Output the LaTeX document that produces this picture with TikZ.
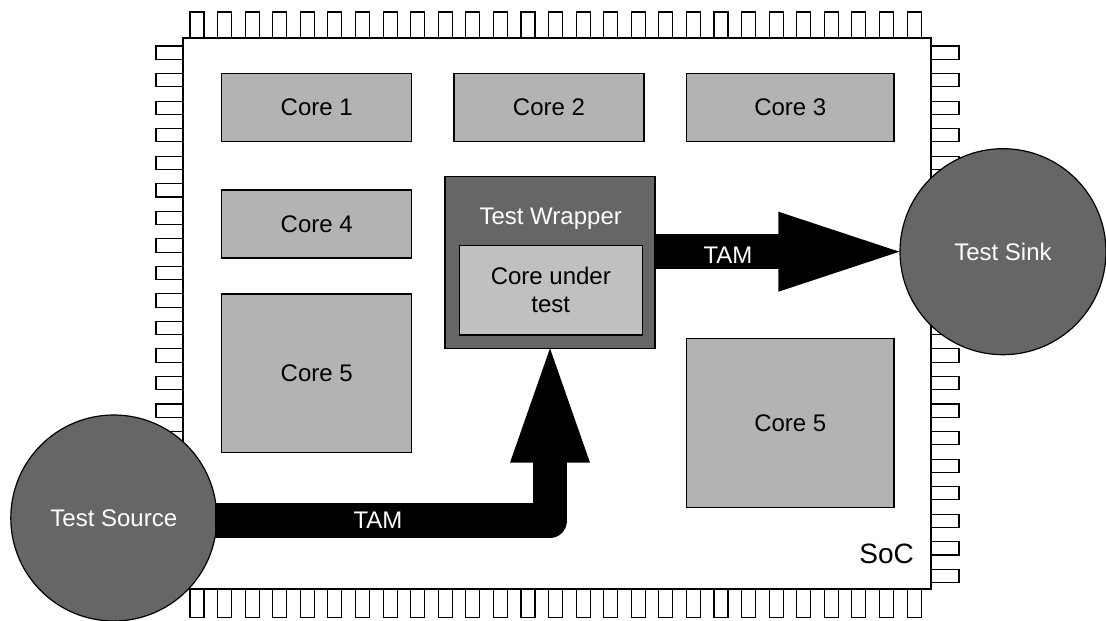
\documentclass[tikz,border=0pt]{standalone}
\usepackage{fontspec}
\setmainfont{Liberation Sans}
\usetikzlibrary{calc}
\definecolor{coregray}{HTML}{B3B3B3}
\definecolor{cutgray}{HTML}{C0C0C0}
\definecolor{wrapgray}{HTML}{666666}
\begin{document}
\begin{tikzpicture}[x=1pt,y=-1pt,
  pin/.style={draw=black,line width=1.1pt,fill=white},
  boxbase/.style={draw=black,line width=1.3pt,inner sep=0pt,outer sep=0pt,
    font=\fontsize{24}{28}\selectfont,align=center},
  core/.style={boxbase,fill=coregray},
  wrapbox/.style={boxbase,fill=wrapgray},
  cutbox/.style={boxbase,fill=cutgray},
  endpoint/.style={circle,draw=black,line width=1.2pt,fill=wrapgray,inner sep=0pt,
    minimum size=206pt,text=white,font=\fontsize{24}{28}\selectfont},
  shaft/.style={draw=black,line width=34.5pt},
  tamlabel/.style={text=white,font=\fontsize{24}{28}\selectfont},
]
\useasboundingbox (0,0) rectangle (1106,621);

% package pins
\foreach \i in {0,...,26} {
  \draw[pin] ({190+27.58*\i},12) rectangle ++(14,26);
  \draw[pin] ({190+27.58*\i},589.3) rectangle ++(14,28);
}
\foreach \i in {0,...,19} {
  \draw[pin] (156,{46+27.54*\i}) rectangle ++(27,13.3);
  \draw[pin] (931,{46+27.54*\i}) rectangle ++(28,13.3);
}

% chip body
\node[draw=black,line width=1.5pt,fill=white,inner sep=0pt,outer sep=0pt,
  minimum width=748pt,minimum height=551pt] (soc) at (557.2,313.6) {};
\node[font=\fontsize{28}{32}\selectfont] (soclabel) at (886.7,554) {SoC};

% cores
\node[core,minimum width=190pt,minimum height=68.4pt] (c1) at (316.7,107.5) {Core 1};
\node[core,minimum width=190pt,minimum height=68.4pt] (c2) at (549,107.5) {Core 2};
\node[core,minimum width=207.3pt,minimum height=68.4pt] (c3) at (790.3,107.5) {Core 3};
\node[core,minimum width=190pt,minimum height=68pt] (c4) at (316.7,224) {Core 4};
\node[core,minimum width=190pt,minimum height=158.7pt] (c5a) at (316.7,373.3) {Core 5};
\node[core,minimum width=207.3pt,minimum height=169pt] (c5b) at (790.3,422.8) {Core 5};

% wrapped core under test
\node[wrapbox,minimum width=210pt,minimum height=171.8pt] (wrap) at (550,262.4) {};
\node[text=white,font=\fontsize{24}{28}\selectfont] (wraplabel) at (550.7,218.3) {Test Wrapper};
\node[cutbox,minimum width=183pt,minimum height=89.3pt] (cut) at (550.8,290.3) {Core under\\test};

% source and sink
\node[endpoint] (src) at (113.8,518) {Test Source};
\node[endpoint] (sink) at (1003,251.7) {Test Sink};

% TAM from source to wrapper
\draw[shaft,line join=round] ([xshift=-2pt,yshift=-2.5pt]src.east) -| ([yshift=-110pt]wrap.south)
  node[pos=0.243,tamlabel] (tam1) {TAM};
\fill[black] ([xshift=-40pt,yshift=-114.4pt]wrap.south) -- (wrap.south)
  -- ([xshift=40pt,yshift=-114.4pt]wrap.south) -- cycle;

% TAM from wrapper to sink
\draw[shaft] (wrap.east |- sink.west) -- ([xshift=-118pt]sink.west);
\fill[black] ([xshift=-121pt,yshift=40pt]sink.west) -- (sink.west)
  -- ([xshift=-121pt,yshift=-40pt]sink.west) -- cycle;
\node[tamlabel] (tam2) at (728,255) {TAM};
\end{tikzpicture}
\end{document}
